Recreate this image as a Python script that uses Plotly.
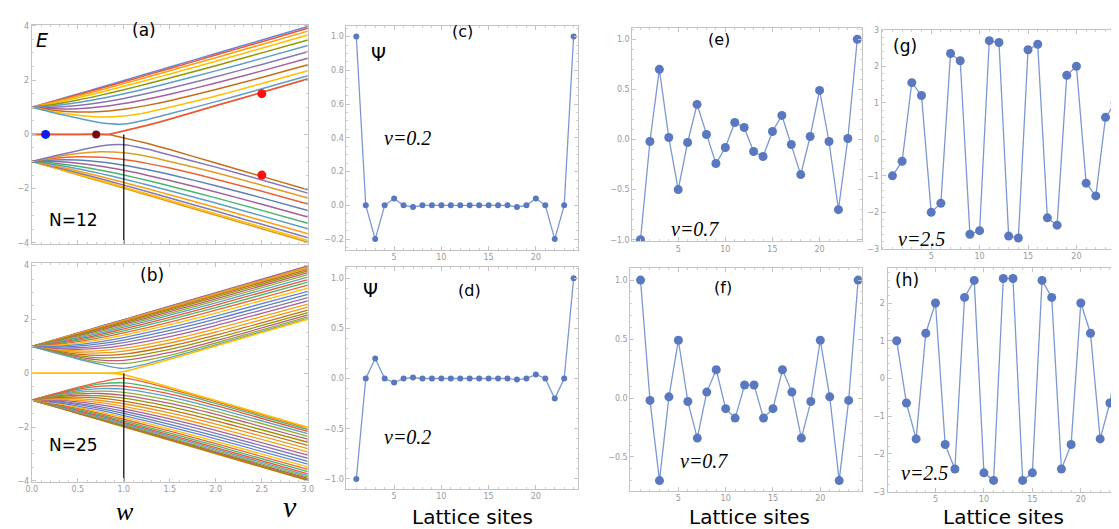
import plotly.graph_objects as go

W, H = 1119, 529

W_VALUE = 1.0
V_GRID_12 = [0, 0.25, 0.5, 0.75, 1.0, 1.25, 1.5, 2.0, 2.5, 3.0]
UPPER_12 = [
    [1, 1.244, 1.490, 1.737, 1.985, 2.234, 2.482, 2.981, 3.479, 3.978],
    [1, 1.227, 1.461, 1.700, 1.942, 2.185, 2.430, 2.923, 3.417, 3.913],
    [1, 1.199, 1.414, 1.639, 1.870, 2.106, 2.344, 2.827, 3.316, 3.807],
    [1, 1.160, 1.348, 1.554, 1.771, 1.996, 2.226, 2.697, 3.177, 3.662],
    [1, 1.113, 1.267, 1.447, 1.646, 1.857, 2.077, 2.533, 3.004, 3.482],
    [1, 1.060, 1.171, 1.320, 1.497, 1.692, 1.900, 2.341, 2.802, 3.275],
    [1, 1.001, 1.063, 1.175, 1.326, 1.504, 1.700, 2.126, 2.578, 3.046],
    [1, 0.941, 0.946, 1.015, 1.136, 1.295, 1.479, 1.893, 2.340, 2.806],
    [1, 0.882, 0.826, 0.843, 0.929, 1.069, 1.243, 1.652, 2.100, 2.567],
    [1, 0.830, 0.708, 0.640, 0.680, 0.810, 1.002, 1.416, 1.873, 2.347],
    [1, 0.787, 0.600, 0.430, 0.380, 0.540, 0.760, 1.207, 1.680, 2.165],
]
EDGE_V_12 = [0, 0.25, 0.5, 0.75, 0.85, 1.0, 1.25, 1.5, 2.0, 2.5, 3.0]
EDGE_UP_12 = [0, 0, 0, 0, 0.01, 0.13, 0.33, 0.56, 1.057, 1.548, 2.043]
LOWER_12 = [
    [-1, -1.244, -1.490, -1.737, -1.985, -2.234, -2.482, -2.981, -3.479, -3.978],
    [-1, -1.227, -1.461, -1.700, -1.942, -2.185, -2.430, -2.923, -3.417, -3.913],
    [-1, -1.199, -1.414, -1.639, -1.870, -2.106, -2.344, -2.827, -3.316, -3.807],
    [-1, -1.160, -1.348, -1.554, -1.771, -1.996, -2.226, -2.697, -3.177, -3.662],
    [-1, -1.113, -1.267, -1.447, -1.646, -1.857, -2.077, -2.533, -3.004, -3.482],
    [-1, -1.060, -1.171, -1.320, -1.497, -1.692, -1.900, -2.341, -2.802, -3.275],
    [-1, -1.001, -1.063, -1.175, -1.326, -1.504, -1.700, -2.126, -2.578, -3.046],
    [-1, -0.941, -0.946, -1.015, -1.136, -1.295, -1.479, -1.893, -2.340, -2.806],
    [-1, -0.882, -0.826, -0.843, -0.929, -1.069, -1.243, -1.652, -2.100, -2.567],
    [-1, -0.830, -0.708, -0.640, -0.680, -0.810, -1.002, -1.416, -1.873, -2.347],
    [-1, -0.787, -0.600, -0.430, -0.380, -0.540, -0.760, -1.207, -1.680, -2.165],
]
EDGE_LO_12 = [0, 0, 0, 0, -0.01, -0.13, -0.33, -0.56, -1.057, -1.548, -2.043]

V_GRID_25 = [0, 0.25, 0.5, 0.75, 1.0, 1.5, 2.0, 3.0]
UPPER_25 = [
    [1, 1.249, 1.498, 1.747, 1.996, 2.496, 2.995, 3.995],
    [1, 1.244, 1.490, 1.738, 1.985, 2.483, 2.981, 3.978],
    [1, 1.237, 1.478, 1.722, 1.967, 2.461, 2.956, 3.951],
    [1, 1.227, 1.461, 1.700, 1.942, 2.430, 2.923, 3.913],
    [1, 1.214, 1.440, 1.672, 1.909, 2.391, 2.880, 3.865],
    [1, 1.199, 1.414, 1.639, 1.870, 2.344, 2.827, 3.807],
    [1, 1.181, 1.383, 1.599, 1.824, 2.289, 2.766, 3.739],
    [1, 1.160, 1.348, 1.554, 1.771, 2.226, 2.697, 3.662],
    [1, 1.138, 1.310, 1.503, 1.712, 2.155, 2.619, 3.576],
    [1, 1.114, 1.267, 1.447, 1.646, 2.077, 2.533, 3.483],
    [1, 1.087, 1.220, 1.386, 1.574, 1.992, 2.441, 3.382],
    [1, 1.060, 1.171, 1.320, 1.497, 1.900, 2.341, 3.275],
    [1, 1.031, 1.118, 1.250, 1.414, 1.803, 2.236, 3.162],
    [1, 1.001, 1.063, 1.176, 1.326, 1.700, 2.126, 3.046],
    [1, 0.971, 1.005, 1.097, 1.233, 1.591, 2.011, 2.927],
    [1, 0.941, 0.946, 1.015, 1.136, 1.479, 1.893, 2.806],
    [1, 0.911, 0.886, 0.930, 1.035, 1.362, 1.772, 2.686],
    [1, 0.882, 0.826, 0.843, 0.930, 1.243, 1.652, 2.567],
    [1, 0.855, 0.766, 0.754, 0.821, 1.123, 1.532, 2.454],
    [1, 0.830, 0.708, 0.663, 0.709, 1.002, 1.416, 2.347],
    [1, 0.807, 0.654, 0.573, 0.595, 0.884, 1.307, 2.250],
    [1, 0.787, 0.604, 0.484, 0.479, 0.771, 1.208, 2.165],
    [1, 0.771, 0.561, 0.400, 0.361, 0.667, 1.123, 2.095],
    [1, 0.760, 0.528, 0.326, 0.180, 0.581, 1.057, 2.043],
]
EDGE_V_25 = [0, 0.25, 0.5, 0.75, 0.9, 1.0, 1.5, 2.0, 3.0]
EDGE_UP_25 = [0, 0, 0, 0, 0.005, 0.06, 0.521, 1.015, 2.011]
LOWER_25 = [
    [-1, -1.249, -1.498, -1.747, -1.996, -2.496, -2.995, -3.995],
    [-1, -1.244, -1.490, -1.738, -1.985, -2.483, -2.981, -3.978],
    [-1, -1.237, -1.478, -1.722, -1.967, -2.461, -2.956, -3.951],
    [-1, -1.227, -1.461, -1.700, -1.942, -2.430, -2.923, -3.913],
    [-1, -1.214, -1.440, -1.672, -1.909, -2.391, -2.880, -3.865],
    [-1, -1.199, -1.414, -1.639, -1.870, -2.344, -2.827, -3.807],
    [-1, -1.181, -1.383, -1.599, -1.824, -2.289, -2.766, -3.739],
    [-1, -1.160, -1.348, -1.554, -1.771, -2.226, -2.697, -3.662],
    [-1, -1.138, -1.310, -1.503, -1.712, -2.155, -2.619, -3.576],
    [-1, -1.114, -1.267, -1.447, -1.646, -2.077, -2.533, -3.483],
    [-1, -1.087, -1.220, -1.386, -1.574, -1.992, -2.441, -3.382],
    [-1, -1.060, -1.171, -1.320, -1.497, -1.900, -2.341, -3.275],
    [-1, -1.031, -1.118, -1.250, -1.414, -1.803, -2.236, -3.162],
    [-1, -1.001, -1.063, -1.176, -1.326, -1.700, -2.126, -3.046],
    [-1, -0.971, -1.005, -1.097, -1.233, -1.591, -2.011, -2.927],
    [-1, -0.941, -0.946, -1.015, -1.136, -1.479, -1.893, -2.806],
    [-1, -0.911, -0.886, -0.930, -1.035, -1.362, -1.772, -2.686],
    [-1, -0.882, -0.826, -0.843, -0.930, -1.243, -1.652, -2.567],
    [-1, -0.855, -0.766, -0.754, -0.821, -1.123, -1.532, -2.454],
    [-1, -0.830, -0.708, -0.663, -0.709, -1.002, -1.416, -2.347],
    [-1, -0.807, -0.654, -0.573, -0.595, -0.884, -1.307, -2.250],
    [-1, -0.787, -0.604, -0.484, -0.479, -0.771, -1.208, -2.165],
    [-1, -0.771, -0.561, -0.400, -0.361, -0.667, -1.123, -2.095],
    [-1, -0.760, -0.528, -0.326, -0.180, -0.581, -1.057, -2.043],
]
EDGE_LO_25 = [0, 0, 0, 0, -0.005, -0.06, -0.521, -1.015, -2.011]

# dots marked in panel (a)
DOT_BLUE = ([0.15], [0.0])
DOT_MAROON = ([0.70], [0.0])
DOT_RED = ([2.5, 2.5], [1.5, -1.5])

# ---------------- wave-function data (panels c-h) ----------------
SITES = list(range(1, 25))
PSI_C = [1.0, 0.0, -0.2, 0.0, 0.04, 0.0, -0.01, 0.0, 0.0, 0.0, 0.0, 0.0,
         0.0, 0.0, 0.0, 0.0, 0.0, -0.01, 0.0, 0.04, 0.0, -0.2, 0.0, 1.0]
PSI_D = [-1.0, 0.0, 0.2, 0.0, -0.04, 0.0, 0.01, 0.0, 0.0, 0.0, 0.0, 0.0,
         0.0, 0.0, 0.0, 0.0, 0.0, -0.01, 0.0, 0.04, 0.0, -0.2, 0.0, 1.0]
PSI_E = [-1.0, -0.02, 0.7, 0.02, -0.5, -0.03, 0.35, 0.05, -0.24, -0.08, 0.17, 0.12,
         -0.12, -0.17, 0.08, 0.24, -0.05, -0.35, 0.03, 0.49, -0.02, -0.7, 0.01, 1.0]
PSI_F = [1.0, -0.02, -0.7, 0.01, 0.49, -0.03, -0.34, 0.05, 0.24, -0.09, -0.17, 0.11,
         0.11, -0.17, -0.09, 0.24, 0.05, -0.34, -0.03, 0.49, 0.01, -0.7, -0.02, 1.0]
PSI_G = [-1.0, -0.6, 1.55, 1.2, -2.0, -1.75, 2.35, 2.15, -2.6, -2.5, 2.7, 2.65,
         -2.65, -2.7, 2.45, 2.6, -2.15, -2.35, 1.75, 2.0, -1.2, -1.55, 0.6, 1.0]
PSI_H = [1.0, -0.65, -1.6, 1.2, 2.0, -1.75, -2.4, 2.15, 2.6, -2.5, -2.7, 2.65,
         2.65, -2.7, -2.5, 2.6, 2.15, -2.4, -1.75, 2.0, 1.2, -1.6, -0.65, 1.0]

PALETTE = ["#5E81B5", "#E19C24", "#8FB032", "#EB6235", "#8778B3", "#C56E1A",
           "#5D9EC7", "#FFBF00", "#A5609D", "#929600", "#E95536", "#6685D9",
           "#F89F13", "#BC5B80", "#47B66D"]
COL_A_UP = ["#6685D9", "#E95536", "#F89F13", "#FFBF00", "#929600", "#5D9EC7",
            "#8778B3", "#A5609D", "#C56E1A", "#FFBF00", "#5D9EC7"]
COL_A_LO = ["#E19C24", "#FFBF00", "#8778B3", "#F89F13", "#5D9EC7", "#47B66D",
            "#A5609D", "#5E81B5", "#EB6235", "#E19C24", "#8778B3"]


def px(x):
    return x / W


def py(y):
    return 1 - y / H


fig = go.Figure()

TICKFONT = dict(family="DejaVu Sans", size=8, color="#9A9A9A")


def axis(d0, d1, rng, anchor, vertical=False, **kw):
    if vertical:
        dom = [py(d1), py(d0)]
    else:
        dom = [px(d0), px(d1)]
    a = dict(domain=dom, range=rng, anchor=anchor, showgrid=False, zeroline=False,
             showline=True, linecolor="#C4C4C4", linewidth=1, mirror="ticks",
             ticks="inside", ticklen=4, tickcolor="#C4C4C4", tickfont=TICKFONT,
             fixedrange=True)
    a.update(kw)
    return a


def minor(dt):
    return dict(tickmode="linear", tick0=0, dtick=dt, ticks="inside", ticklen=2, tickcolor="#D0D0D0")


layout_axes = {}
panels = {
    "a": (18, 297, 13, 236, [0, 3], [-4.04, 4.04]),
    "b": (18, 297, 255, 478, [0, 3], [-4.04, 4.11]),
    "c": (336, 570, 14, 242, [-0.05, 24.45], [-0.264, 1.064]),
    "d": (336, 570, 259, 485, [-0.05, 24.45], [-1.098, 1.115]),
    "e": (625, 857, 16, 233, [0.13, 24.48], [-1.013, 1.115]),
    "f": (623, 857, 260, 487, [-0.08, 24.39], [-0.786, 1.106]),
    "g": (877, 1119, 18, 241, [-0.12, 24.6], [-3.0, 3.0]),
    "h": (883, 1119, 260, 488, [0.05, 24.15], [-3.0, 2.94]),
}
order = ["a", "b", "c", "d", "e", "f", "g", "h"]
ytick_cfg = {
    "a": dict(tickmode="array", tickvals=[-4, -2, 0, 2, 4], minor=minor(0.5)),
    "b": dict(tickmode="array", tickvals=[-4, -2, 0, 2, 4], minor=minor(0.5)),
    "c": dict(tickmode="array", tickvals=[-0.2, 0, 0.2, 0.4, 0.6, 0.8, 1.0], tickformat=".1f", minor=minor(0.05)),
    "d": dict(tickmode="array", tickvals=[-1, -0.5, 0, 0.5, 1.0], tickformat=".1f", minor=minor(0.1)),
    "e": dict(tickmode="array", tickvals=[-1, -0.5, 0, 0.5, 1.0], tickformat=".1f", minor=minor(0.1)),
    "f": dict(tickmode="array", tickvals=[-0.5, 0, 0.5, 1.0], tickformat=".1f", minor=minor(0.1)),
    "g": dict(tickmode="array", tickvals=[-3, -2, -1, 0, 1, 2, 3], minor=minor(0.2)),
    "h": dict(tickmode="array", tickvals=[-3, -2, -1, 0, 1, 2], minor=minor(0.2)),
}
for i, k in enumerate(order):
    n = "" if i == 0 else str(i + 1)
    x0, x1, y0, y1, xr, yr = panels[k]
    if k in ("a", "b"):
        xk = dict(tickmode="array", tickvals=[0, 0.5, 1.0, 1.5, 2.0, 2.5, 3.0], tickformat=".1f",
                  minor=minor(0.1), showticklabels=(k == "b"))
    else:
        xk = dict(tickmode="array", tickvals=[5, 10, 15, 20], minor=minor(1))
    layout_axes["xaxis" + n] = axis(x0, x1, xr, "y" + n, **xk)
    layout_axes["yaxis" + n] = axis(y0, y1, yr, "x" + n, vertical=True, **ytick_cfg[k])

AX = {k: ("x" if i == 0 else "x" + str(i + 1), "y" if i == 0 else "y" + str(i + 1)) for i, k in enumerate(order)}


def line(xs, ys, color, panel, width=1.5, shape="spline", smoothing=0.8):
    xa, ya = AX[panel]
    fig.add_trace(go.Scatter(x=xs, y=ys, mode="lines", xaxis=xa, yaxis=ya,
                             line=dict(color=color, width=width, shape=shape, smoothing=smoothing),
                             showlegend=False, hoverinfo="skip"))


# panel (a)
for j, row in enumerate(LOWER_12):
    line(V_GRID_12, row, COL_A_LO[j], "a")
for j, row in enumerate(UPPER_12):
    line(V_GRID_12, row, COL_A_UP[j], "a")
line(EDGE_V_12, EDGE_LO_12, "#C56E1A", "a", smoothing=0.4)
line(EDGE_V_12, EDGE_UP_12, "#EB5A35", "a", width=1.8, smoothing=0.4)
line([W_VALUE, W_VALUE], [0, -4.04], "black", "a", width=1.2, shape="linear")
xa, ya = AX["a"]
fig.add_trace(go.Scatter(x=DOT_BLUE[0], y=DOT_BLUE[1], mode="markers", xaxis=xa, yaxis=ya,
                         marker=dict(color="#0A1EF0", size=9, symbol="circle"), showlegend=False))
fig.add_trace(go.Scatter(x=DOT_MAROON[0], y=DOT_MAROON[1], mode="markers", xaxis=xa, yaxis=ya,
                         marker=dict(color="#7A0A0A", size=8), showlegend=False))
fig.add_trace(go.Scatter(x=DOT_RED[0], y=DOT_RED[1], mode="markers", xaxis=xa, yaxis=ya,
                         marker=dict(color="#FF1010", size=9), showlegend=False))

# panel (b)
nb = len(UPPER_25)
for j in range(nb):
    line(V_GRID_25, LOWER_25[j], PALETTE[(j * 4 + 1) % len(PALETTE)], "b", width=1.3)
for j in range(nb):
    line(V_GRID_25, UPPER_25[j], PALETTE[(j * 4 + 4) % len(PALETTE)], "b", width=1.3)
line(EDGE_V_25, EDGE_LO_25, "#FFBF00", "b", width=1.6, smoothing=0.4)
line(EDGE_V_25, EDGE_UP_25, "#FFBF00", "b", width=1.6, smoothing=0.4)
line([W_VALUE, W_VALUE], [0, -4.04], "black", "b", width=1.2, shape="linear")

# wave-function panels
for k, data, msize in [("c", PSI_C, 6), ("d", PSI_D, 6), ("e", PSI_E, 9),
                       ("f", PSI_F, 9), ("g", PSI_G, 9), ("h", PSI_H, 9)]:
    xa, ya = AX[k]
    fig.add_trace(go.Scatter(x=SITES, y=data, mode="lines+markers", xaxis=xa, yaxis=ya,
                             line=dict(color="#7C98D2", width=1.3),
                             marker=dict(color="#5A78C0", size=msize),
                             showlegend=False, hoverinfo="skip"))

# annotations
ann = []


def txt(s, x, y, size, family="DejaVu Sans", italic=False):
    f = dict(family=family, size=size, color="black")
    if italic:
        f["style"] = "italic"
    ann.append(dict(text=s, x=px(x), y=py(y), xref="paper", yref="paper",
                    showarrow=False, xanchor="center", yanchor="middle", font=f))


SERIF = "Liberation Serif"
txt("E", 28, 28, 19, italic=True)
txt("(a)", 131, 18, 17)
txt("N=12", 60, 212, 17)
txt("(b)", 140, 268, 17)
txt("N=25", 60, 441, 17)
txt("w", 112, 508, 26, SERIF, italic=True)
txt("v", 279, 503, 30, SERIF, italic=True)
txt("(c)", 453, 20, 16)
txt("Ψ", 368, 43, 19)
txt("v=0.2", 398, 128, 20, SERIF, italic=True)
txt("Ψ", 360, 283, 19)
txt("(d)", 460, 283, 16)
txt("v=0.2", 398, 432, 20, SERIF, italic=True)
txt("(e)", 713, 28, 16)
txt("v=0.7", 688, 221, 20, SERIF, italic=True)
txt("(f)", 717, 280, 16)
txt("v=0.7", 697, 457, 20, SERIF, italic=True)
txt("(g)", 901, 35, 17)
txt("v=2.5", 917, 231, 20, SERIF, italic=True)
txt("(h)", 903, 273, 17)
txt("v=2.5", 920, 469, 20, SERIF, italic=True)
txt("Lattice sites", 463, 514, 20)
txt("Lattice sites", 743, 514, 20)
txt("Lattice sites", 1000, 514, 20)

fig.update_layout(width=W, height=H, margin=dict(l=0, r=0, t=0, b=0),
                  paper_bgcolor="white", plot_bgcolor="white",
                  annotations=ann, showlegend=False, **layout_axes)

fig.write_html("out.html")
